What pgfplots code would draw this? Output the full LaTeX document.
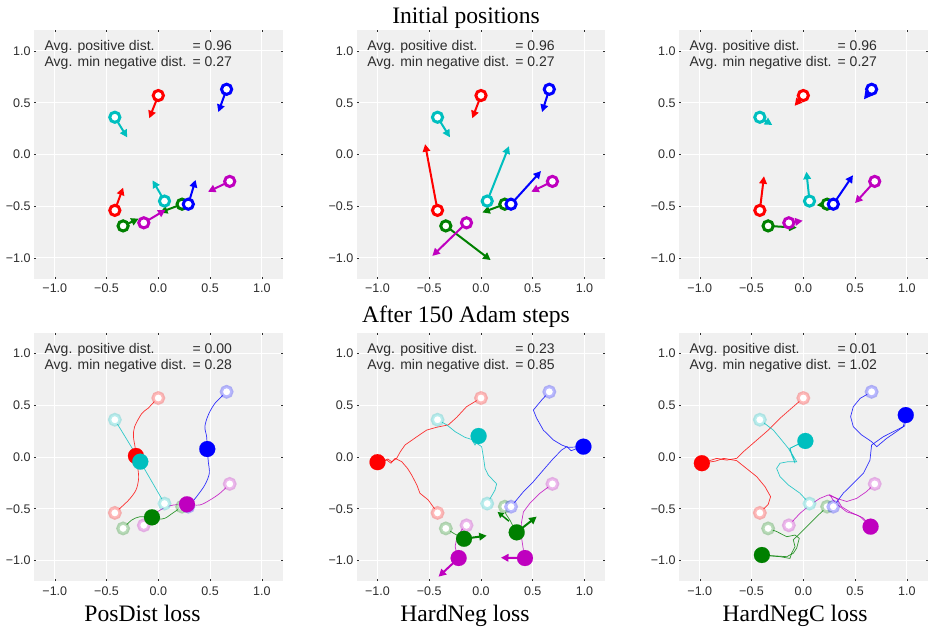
\documentclass[border=0pt]{standalone}
\usepackage{pgfplots}
\pgfplotsset{compat=1.18}
\usepackage{fontspec}
\setmainfont{Liberation Serif}
\newfontfamily\sans{Liberation Sans}
\usetikzlibrary{arrows.meta}
\definecolor{bgc}{RGB}{240,240,240}
\definecolor{tlc}{RGB}{45,45,45}
\definecolor{colr}{RGB}{255,0,0}
\definecolor{colc}{RGB}{0,191,191}
\definecolor{colb}{RGB}{0,0,255}
\definecolor{colm}{RGB}{191,0,191}
\definecolor{colg}{RGB}{0,128,0}
\tikzset{annot/.style={anchor=base west, font=\sans\fontsize{14}{16}\selectfont, text=tlc, inner sep=0pt}}
\pgfplotsset{
 panel/.style={
   width=248.4pt, height=248.4pt, scale only axis, anchor=center,
   xmin=-1.2,xmax=1.2,ymin=-1.2,ymax=1.2,
   axis background/.style={fill=bgc},
   axis line style={draw=none},
   grid=major, major grid style={white, line width=1pt},
   xtick={-1,-0.5,0,0.5,1}, ytick={-1,-0.5,0,0.5,1},
   xticklabels={−1.0,−0.5,0.0,0.5,1.0}, yticklabels={−1.0,−0.5,0.0,0.5,1.0},
   tick align=inside, major tick length=2pt, tick style={tlc, line width=0.6pt},
   ticklabel style={font=\sans\fontsize{12.5}{14}\selectfont, text=tlc},
   xticklabel style={yshift=-2pt},
 },
 qv/.style={line width=2pt, -{Triangle[width=7.5pt,length=7.5pt]}, quiver={u=\thisrow{u},v=\thisrow{v}}},
 oc/.style={#1, only marks, mark=*, mark size=5.1pt, line width=3pt, mark options={draw=#1, fill=white, line width=3pt}},
 lc/.style={#1, only marks, mark=*, mark size=5.3pt, line width=3.2pt, mark options={draw=#1, draw opacity=0.28, fill=white, line width=3.2pt}},
 fc/.style={#1, only marks, mark=*, mark size=8pt, mark options={draw=#1, fill=#1, line width=0.1pt}},
 tr/.style={#1, line width=0.7pt, draw opacity=0.8, no marks},
}
\newcommand\annot[2]{%
 \node[annot] at (axis cs:-1.1,1.0) {Avg. positive dist.};
 \node[annot] at (axis cs:0.33,1.0) {= #1};
 \node[annot] at (axis cs:-1.1,0.848) {Avg. min negative dist.};
 \node[annot] at (axis cs:0.33,0.848) {= #2};}
\newcommand\initcircles[1]{%
 \addplot[#1=colr] coordinates {(0,0.57) (-0.42,-0.54)};
 \addplot[#1=colc] coordinates {(-0.42,0.36) (0.06,-0.45)};
 \addplot[#1=colg] coordinates {(0.23,-0.48) (-0.34,-0.69)};
 \addplot[#1=colm] coordinates {(0.69,-0.26) (-0.14,-0.66)};
 \addplot[#1=colb] coordinates {(0.66,0.63) (0.29,-0.48)};}
\begin{document}
\begin{tikzpicture}[x=1pt,y=1pt]
\useasboundingbox (0,0) rectangle (929,630);
\node[anchor=base, font=\fontsize{23.6}{28}\selectfont] at (466,606.7) {Initial positions};
\node[anchor=base, font=\fontsize{23.6}{28}\selectfont] at (466,307) {After 150 Adam steps};
\node[anchor=base, font=\fontsize{23.6}{28}\selectfont] at (142.5,8.3) {PosDist loss};
\node[anchor=base, font=\fontsize{23.6}{28}\selectfont] at (465,8.3) {HardNeg loss};
\node[anchor=base, font=\fontsize{23.6}{28}\selectfont] at (795,8.3) {HardNegC loss};

% ---------- Panel 1
\begin{axis}[panel, at={(158.3pt,475.5pt)}]
\addplot[colr,qv] table[row sep=\\] {x y u v\\ 0 0.57 -0.087 -0.22\\ -0.42 -0.54 0.08 0.22\\};
\addplot[colc,qv] table[row sep=\\] {x y u v\\ -0.42 0.36 0.12 -0.195\\ 0.06 -0.45 -0.115 0.20\\};
\addplot[colg,qv] table[row sep=\\] {x y u v\\ 0.23 -0.48 -0.214 -0.08\\ -0.34 -0.69 0.15 0.07\\};
\addplot[colm,qv] table[row sep=\\] {x y u v\\ 0.69 -0.26 -0.21 -0.10\\ -0.14 -0.66 0.21 0.125\\};
\addplot[colb,qv] table[row sep=\\] {x y u v\\ 0.66 0.63 -0.08 -0.22\\ 0.29 -0.48 0.07 0.235\\};
\initcircles{oc}
\annot{0.96}{0.27}
\end{axis}

% ---------- Panel 2
\begin{axis}[panel, at={(481pt,475.5pt)}]
\addplot[colr,qv] table[row sep=\\] {x y u v\\ 0 0.57 -0.084 -0.22\\ -0.42 -0.54 -0.12 0.64\\};
\addplot[colc,qv] table[row sep=\\] {x y u v\\ -0.42 0.36 0.12 -0.194\\ 0.06 -0.45 0.21 0.53\\};
\addplot[colg,qv] table[row sep=\\] {x y u v\\ 0.23 -0.48 -0.217 -0.08\\ -0.34 -0.69 0.433 -0.33\\};
\addplot[colm,qv] table[row sep=\\] {x y u v\\ 0.69 -0.26 -0.204 -0.10\\ -0.14 -0.66 -0.33 -0.32\\};
\addplot[colb,qv] table[row sep=\\] {x y u v\\ 0.66 0.63 -0.07 -0.22\\ 0.29 -0.48 0.29 0.32\\};
\initcircles{oc}
\annot{0.96}{0.27}
\end{axis}

% ---------- Panel 3
\begin{axis}[panel, at={(803.3pt,475.5pt)}]
\addplot[colr,qv] table[row sep=\\] {x y u v\\ 0 0.57 -0.084 -0.10\\ -0.42 -0.54 0.04 0.33\\};
\addplot[colc,qv] table[row sep=\\] {x y u v\\ -0.42 0.36 0.12 -0.075\\ 0.06 -0.45 -0.03 0.284\\};
\addplot[colg,qv] table[row sep=\\] {x y u v\\ 0.23 -0.48 -0.10 -0.01\\ -0.34 -0.69 0.276 -0.017\\};
\addplot[colm,qv] table[row sep=\\] {x y u v\\ 0.69 -0.26 -0.19 -0.21\\ -0.14 -0.66 0.134 0.02\\};
\addplot[colb,qv] table[row sep=\\] {x y u v\\ 0.66 0.63 -0.074 -0.097\\ 0.29 -0.48 0.19 0.28\\};
\initcircles{oc}
\annot{0.96}{0.27}
\end{axis}

% ---------- Panel 4
\begin{axis}[panel, at={(158.3pt,173pt)}]
\initcircles{lc}
\addplot[tr=colr, smooth] coordinates {(0.0,0.57) (-0.03,0.544) (-0.10,0.47) (-0.16,0.42) (-0.23,0.29) (-0.24,0.196) (-0.225,0.10) (-0.216,0.01)};
\addplot[tr=colr, smooth] coordinates {(-0.42,-0.54) (-0.29,-0.42) (-0.216,-0.32) (-0.19,-0.206) (-0.2,-0.093) (-0.216,0.01)};
\addplot[tr=colc] coordinates {(-0.42,0.36) (-0.174,-0.045)};
\addplot[tr=colc] coordinates {(0.06,-0.45) (-0.174,-0.045)};
\addplot[tr=colb, smooth] coordinates {(0.66,0.63) (0.547,0.518) (0.483,0.406) (0.45,0.293) (0.467,0.196) (0.473,0.077)};
\addplot[tr=colb, smooth] coordinates {(0.29,-0.48) (0.37,-0.383) (0.45,-0.27) (0.493,-0.158) (0.483,-0.045) (0.473,0.077)};
\addplot[tr=colm, smooth] coordinates {(0.69,-0.26) (0.596,-0.35) (0.50,-0.415) (0.40,-0.464) (0.277,-0.457)};
\addplot[tr=colm, smooth] coordinates {(-0.14,-0.66) (-0.048,-0.56) (0.048,-0.496) (0.145,-0.464) (0.277,-0.457)};
\addplot[tr=colg, smooth] coordinates {(-0.34,-0.69) (-0.258,-0.61) (-0.177,-0.577) (-0.061,-0.583)};
\addplot[tr=colg, smooth] coordinates {(0.23,-0.48) (0.145,-0.538) (0.064,-0.592) (0.0,-0.60) (-0.061,-0.583)};
\addplot[fc=colr] coordinates {(-0.216,0.01)};
\addplot[fc=colc] coordinates {(-0.174,-0.045)};
\addplot[fc=colb] coordinates {(0.473,0.077)};
\addplot[fc=colm] coordinates {(0.277,-0.457)};
\addplot[fc=colg] coordinates {(-0.061,-0.583)};
\annot{0.00}{0.28}
\end{axis}

% ---------- Panel 5
\begin{axis}[panel, at={(481pt,173pt)}]
\initcircles{lc}
\addplot[tr=colr] coordinates {(0,0.57) (-0.14,0.486) (-0.235,0.383) (-0.316,0.31) (-0.43,0.287) (-0.525,0.26) (-0.62,0.196) (-0.734,0.116) (-0.78,0.05) (-0.815,-0.013) (-0.863,-0.045) (-0.9,-0.02) (-0.95,-0.04) (-1.0,-0.05)};
\addplot[tr=colr] coordinates {(-0.42,-0.54) (-0.51,-0.415) (-0.59,-0.35) (-0.62,-0.27) (-0.67,-0.174) (-0.71,-0.11) (-0.766,-0.045) (-0.83,-0.013) (-0.87,-0.06) (-0.91,-0.03) (-1.0,-0.05)};
\addplot[tr=colc] coordinates {(-0.42,0.36) (-0.33,0.31) (-0.25,0.245) (-0.155,0.19) (-0.09,0.17) (-0.058,0.116) (-0.04,0.15) (-0.023,0.203)};
\addplot[tr=colc] coordinates {(0.06,-0.45) (0.135,-0.32) (0.151,-0.26) (0.07,-0.174) (0.039,-0.11) (0.023,0.003) (0.006,0.1) (-0.042,0.132) (-0.023,0.203)};
\addplot[tr=colb] coordinates {(0.66,0.63) (0.586,0.55) (0.506,0.454) (0.538,0.374) (0.602,0.26) (0.7,0.164) (0.78,0.116) (0.84,0.093) (0.99,0.1)};
\addplot[tr=colb] coordinates {(0.29,-0.48) (0.41,-0.335) (0.506,-0.238) (0.602,-0.126) (0.70,-0.013) (0.78,0.068) (0.83,0.1) (0.87,0.06) (0.92,0.08) (0.99,0.1)};
\addplot[tr=colg] coordinates {(-0.34,-0.69) (-0.26,-0.74) (-0.164,-0.79)};
\addplot[tr=colg] coordinates {(0.23,-0.48) (0.24,-0.55) (0.28,-0.61) (0.31,-0.67) (0.345,-0.728)};
\addplot[tr=colm] coordinates {(-0.14,-0.66) (-0.187,-0.705) (-0.235,-0.786) (-0.25,-0.866) (-0.235,-0.93) (-0.216,-0.976)};
\addplot[tr=colm] coordinates {(0.69,-0.26) (0.57,-0.35) (0.47,-0.45) (0.41,-0.53) (0.39,-0.64) (0.39,-0.77) (0.41,-0.9) (0.425,-0.976)};
\addplot[colg,qv] table[row sep=\\] {x y u v\\ -0.164 -0.79 0.219 0.03\\ 0.345 -0.728 0.193 0.152\\};
\addplot[colg,line width=1.5pt,-{Triangle[width=6pt,length=6pt]},quiver={u=\thisrow{u},v=\thisrow{v}}] table[row sep=\\] {x y u v\\ 0.27 -0.62 -0.11 0.09\\};
\addplot[colm,qv] table[row sep=\\] {x y u v\\ -0.216 -0.976 -0.194 -0.18\\ 0.425 -0.976 -0.232 0.003\\};
\addplot[fc=colr] coordinates {(-1.0,-0.05)};
\addplot[fc=colc] coordinates {(-0.023,0.203)};
\addplot[fc=colb] coordinates {(0.99,0.1)};
\addplot[fc=colg] coordinates {(-0.164,-0.79) (0.345,-0.728)};
\addplot[fc=colm] coordinates {(-0.216,-0.976) (0.425,-0.976)};
\annot{0.23}{0.85}
\end{axis}

% ---------- Panel 6
\begin{axis}[panel, at={(803.3pt,173pt)}]
\initcircles{lc}
\addplot[tr=colr] coordinates {(0,0.57) (-0.097,0.486) (-0.225,0.374) (-0.338,0.26) (-0.467,0.148) (-0.58,0.05) (-0.644,-0.013) (-0.74,-0.03) (-0.837,-0.013) (-0.98,-0.06)};
\addplot[tr=colr] coordinates {(-0.42,-0.54) (-0.34,-0.46) (-0.316,-0.383) (-0.37,-0.287) (-0.45,-0.19) (-0.55,-0.11) (-0.644,-0.035) (-0.77,-0.013) (-0.85,-0.04) (-0.98,-0.06)};
\addplot[tr=colc] coordinates {(-0.42,0.36) (-0.29,0.26) (-0.21,0.164) (-0.145,0.084) (-0.097,0.003) (-0.08,-0.06) (-0.113,0.02) (-0.129,0.084) (-0.064,0.116) (0,0.132) (0.02,0.155)};
\addplot[tr=colc] coordinates {(0.06,-0.45) (-0.032,-0.35) (-0.145,-0.27) (-0.225,-0.19) (-0.258,-0.11) (-0.225,-0.06) (-0.145,-0.045) (-0.064,-0.045) (-0.113,0.035) (-0.129,0.084) (-0.064,0.116) (0.02,0.155)};
\addplot[tr=colb] coordinates {(0.66,0.63) (0.55,0.567) (0.483,0.486) (0.457,0.39) (0.483,0.293) (0.564,0.213) (0.66,0.148) (0.71,0.1) (0.805,0.18) (0.9,0.245) (0.966,0.293) (0.99,0.405)};
\addplot[tr=colb] coordinates {(0.29,-0.48) (0.386,-0.35) (0.483,-0.254) (0.58,-0.158) (0.644,-0.03) (0.66,0.116) (0.773,0.196) (0.9,0.26) (0.98,0.3) (0.99,0.405)};
\addplot[tr=colm] coordinates {(0.69,-0.26) (0.61,-0.335) (0.515,-0.4) (0.42,-0.43) (0.322,-0.4) (0.258,-0.367) (0.29,-0.42) (0.354,-0.48) (0.42,-0.53) (0.515,-0.56) (0.58,-0.59) (0.65,-0.673)};
\addplot[tr=colm] coordinates {(-0.14,-0.66) (-0.032,-0.544) (0.064,-0.464) (0.16,-0.4) (0.24,-0.367) (0.322,-0.4) (0.37,-0.48) (0.45,-0.53) (0.55,-0.576) (0.65,-0.673)};
\addplot[tr=colg] coordinates {(0.23,-0.48) (0.13,-0.576) (0.032,-0.673) (-0.048,-0.754) (-0.097,-0.8) (-0.08,-0.866) (-0.113,-0.93) (-0.129,-0.98) (-0.225,-0.963) (-0.306,-0.957) (-0.4,-0.947)};
\addplot[tr=colg] coordinates {(-0.34,-0.69) (-0.258,-0.72) (-0.16,-0.77) (-0.08,-0.754) (-0.039,-0.786) (-0.064,-0.88) (-0.097,-0.93) (-0.16,-0.963) (-0.4,-0.947)};
\addplot[fc=colr] coordinates {(-0.98,-0.06)};
\addplot[fc=colc] coordinates {(0.02,0.155)};
\addplot[fc=colb] coordinates {(0.99,0.405)};
\addplot[fc=colm] coordinates {(0.65,-0.673)};
\addplot[fc=colg] coordinates {(-0.4,-0.947)};
\annot{0.01}{1.02}
\end{axis}
\end{tikzpicture}
\end{document}
